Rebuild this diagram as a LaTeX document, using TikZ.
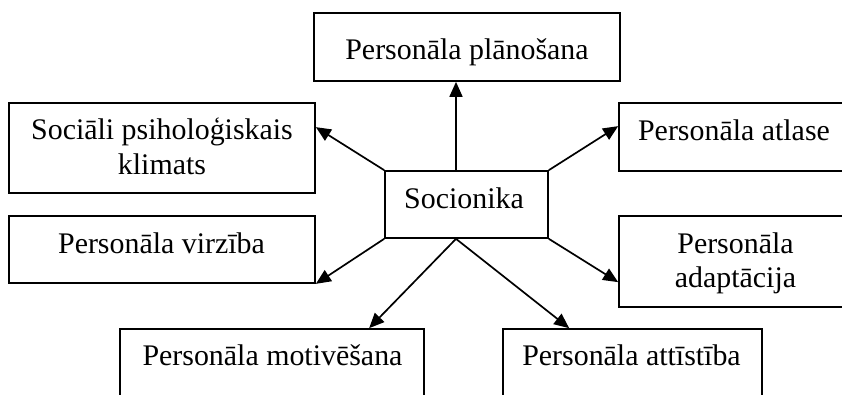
\documentclass[tikz,border=0pt]{standalone}
\usepackage{fontspec}
\setmainfont{Liberation Serif}
\usetikzlibrary{arrows.meta,calc}
\begin{document}
\begin{tikzpicture}[x=1pt,y=-1pt,
  box/.style={draw,line width=1.7pt,rectangle,inner sep=0pt},
  lbl/.style={anchor=base,inner sep=0pt,font=\fontsize{29.9}{34.5}\selectfont},
  arr/.style={line width=1.7pt,-{Triangle[length=15pt,width=13pt]}}]
\useasboundingbox (0,0) rectangle (842,395);
\clip (0,0) rectangle (842,395);
% boxes
\node[box,minimum width=306pt,minimum height=68pt] (top) at (467,47) {};
\node[box,minimum width=306pt,minimum height=90pt] (soc) at (162,148) {};
\node[box,minimum width=243pt,minimum height=68pt] (atl) at (740.5,137) {};
\node[box,minimum width=243pt,minimum height=91pt] (ada) at (740.5,261.5) {};
\node[box,minimum width=306pt,minimum height=67pt] (vir) at (162,249.5) {};
\node[box,minimum width=163pt,minimum height=67pt] (c) at (466.5,204.5) {};
\node[box,minimum width=304pt,minimum height=91pt] (mot) at (272,374.5) {};
\node[box,minimum width=259pt,minimum height=91pt] (att) at (632.5,374.5) {};
% texts
\node[lbl] (ttop) at (467,60) {Personāla plānošana};
\node[lbl] (tsoc1) at (162,140) {Sociāli psiholoģiskais};
\node[lbl] (tsoc2) at (162,175) {klimats};
\node[lbl] (tc) at (464,209) {Socionika};
\node[lbl] (tatl) at (734,141) {Personāla atlase};
\node[lbl] (tada1) at (735.5,253) {Personāla};
\node[lbl] (tada2) at (735.5,287) {adaptācija};
\node[lbl] (tvir) at (161.5,253) {Personāla virzība};
\node[lbl] (tmot) at (272.5,365) {Personāla motivēšana};
\node[lbl] (tatt) at (631.5,365) {Personāla attīstība};
% arrows
\draw[arr] ($(c.north)+(-10.5,0)$) coordinate (u) -- (u |- top.south);
\draw[arr] (c.north west) -- ($(soc.north east)+(0,25)$);
\draw[arr] (c.north east) -- ($(atl.north west)+(0,24)$);
\draw[arr] (c.south west) -- (vir.south east);
\draw[arr] (c.south east) -- ($(ada.north west)+(0,67)$);
\draw[arr] ($(c.south)+(-10.5,0)$) coordinate (d) -- ($(mot.north west)+(250,0)$);
\draw[arr] (d) -- ($(att.north west)+(67,0)$);
\end{tikzpicture}
\end{document}
